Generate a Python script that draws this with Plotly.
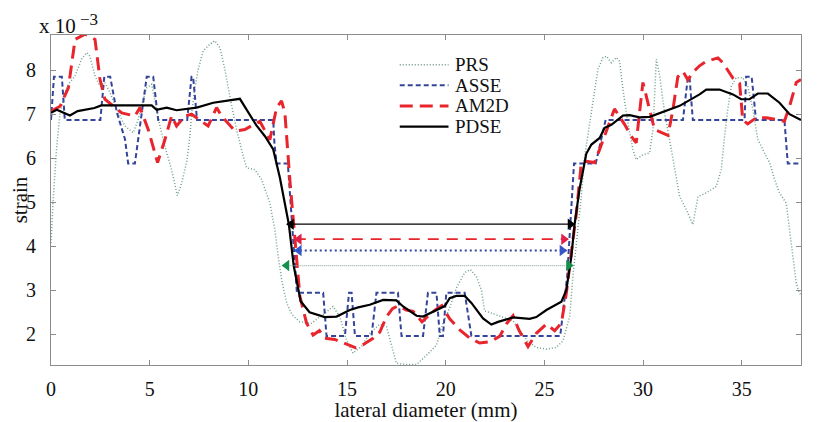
import plotly.graph_objects as go

# ---------------- data (strain in units of 1e-3, x in mm) ----------------
prs_x = [0, 0.12, 0.29, 0.46, 0.71, 0.88, 1.22, 1.55, 1.81, 1.97, 2.23, 2.48, 2.73, 2.99, 3.33, 3.75,
         4.17, 4.42, 4.67, 4.85, 5.1, 5.27, 5.52, 5.77, 6.11, 6.4, 6.6, 6.87, 7.04, 7.12, 7.29, 7.46,
         7.71, 8.05, 8.3, 8.56, 8.81, 9.06, 9.4, 9.74, 9.91, 10.33, 10.67, 11.09, 11.34, 11.51, 11.7,
         11.95, 12.2, 12.6, 13.2, 13.79, 14.29, 14.63, 14.97, 15.3, 15.73, 16.15, 16.66, 17.0, 17.5,
         18.0, 18.52, 19.02, 19.53, 19.86, 20.2, 20.54, 20.96, 21.25, 21.55, 21.81, 21.97, 22.39,
         23.41, 24.17, 24.59, 25.1, 25.6, 25.94, 26.28, 26.45, 26.62, 26.87, 27.04, 27.21, 27.38,
         27.54, 27.71, 27.97, 28.14, 28.39, 28.64, 28.81, 28.98, 29.23, 29.48, 29.65, 29.99, 30.33,
         30.5, 30.58, 30.67, 30.84, 31.09, 31.34, 31.6, 31.85, 32.19, 32.52, 32.78, 33.2, 33.71,
         33.96, 34.13, 34.29, 34.47, 34.72, 35.05, 35.3, 35.56, 35.81, 36.15, 36.41, 36.66, 36.91,
         37.25, 37.42, 37.59, 37.76, 37.92, 38]
prs_y = [4.07, 5.13, 6.27, 7.03, 7.49, 7.68, 7.87, 8.25, 8.4, 8.32, 7.87, 7.64, 7.72, 7.49, 7.11, 6.73,
         6.58, 6.88, 7.34, 7.6, 7.68, 7.26, 6.73, 6.27, 5.74, 5.15, 5.4, 5.9, 6.5, 7.0, 7.6, 8.02,
         8.44, 8.59, 8.67, 8.51, 8.02, 7.41, 6.65, 6.05, 5.78, 5.74, 5.52, 4.98, 4.38, 3.77, 3.2,
         2.7, 2.45, 2.28, 2.25, 2.45, 2.63, 2.4, 1.87, 1.57, 1.72, 2.02, 2.23, 2.17, 1.34,
         1.31, 1.31, 1.52, 1.75, 2.25, 2.6, 3.05, 3.4, 3.47, 3.31, 3.0, 2.53, 2.47,
         2.3, 1.83, 1.7, 1.66, 1.7, 1.85, 2.4, 3.35, 4.1, 5.13, 6.05, 6.58, 7.03,
         7.56, 8.02, 8.29, 8.32, 8.17, 8.29, 8.2, 7.56, 6.8, 6.2, 5.97, 6.08, 6.12,
         6.65, 7.41, 8.25, 7.87, 7.03, 6.42, 5.74, 5.13, 4.83, 4.49, 5.13, 5.21, 5.36,
         5.74, 6.5, 7.11, 7.64, 7.83, 7.83, 7.64, 7.11, 6.43, 6.12, 5.9, 5.52, 5.21,
         4.98, 4.38, 3.77, 3.16, 2.93, 2.9]

asse_x = [0, 0.15, 0.55, 0.7, 2.5, 2.7, 3.0, 3.33, 3.75, 3.91, 4.25, 4.59, 4.85, 5.18, 5.43, 6.9,
          7.12, 7.2, 7.4, 11.26, 11.32, 11.43, 12.0, 12.46, 13.79, 13.96, 14.89, 15.1, 15.23,
          15.4, 16.24, 16.49, 17.58, 17.76, 18.85, 19.1, 19.53, 19.7, 19.86, 20.03, 20.96, 21.3,
          25.8, 26.15, 26.5, 27.6, 28.1, 32.02, 32.27, 32.35, 32.52, 35.14, 35.22, 35.5, 35.72,
          37.16, 37.33, 38]
asse_y = [6.87, 7.85, 7.85, 6.87, 6.87, 7.85, 7.85, 7.05, 6.43, 5.88, 5.88, 7.03, 7.85, 7.85, 6.87, 6.87,
          7.85, 7.85, 6.87, 6.87, 6.35, 5.88, 5.88, 2.94, 2.94, 1.96, 1.96, 2.94, 2.94,
          1.96, 1.96, 2.94, 2.94, 1.96, 1.96, 2.94, 2.94, 1.96, 1.96, 2.94, 2.94, 1.96,
          1.96, 3.3, 5.88, 5.88, 6.87, 6.87, 7.85, 7.85, 6.87, 6.87, 7.85, 7.85, 6.87,
          6.87, 5.88, 5.88]

am2d_x = [0, 0.46, 0.88, 1.22, 1.72, 2.23, 2.48, 2.73, 3.58, 4.25, 4.51, 4.93, 5.4, 5.77, 6.11, 6.36,
          6.78, 7.12, 7.96, 8.39, 8.64, 9.32, 9.82, 10.58, 11.09, 11.43, 11.68, 11.85, 12.1, 12.35,
          12.61, 12.95, 13.28, 13.6, 13.87, 14.38, 14.97, 15.45, 15.81, 16.3, 16.66, 17.0, 17.3,
          17.6, 18.0, 18.35, 18.8, 19.3, 19.8, 20.2, 20.71, 21.22, 21.72, 22.23, 22.73, 23.1, 23.41,
          23.7, 24.17, 24.59, 25.1, 25.52, 25.86, 26.11, 26.36, 26.62, 26.87, 27.12, 27.54, 27.8,
          28.55, 29.06, 29.4, 29.65, 29.99, 30.2, 30.58, 31.26, 31.51, 31.76, 32.02, 32.27, 32.52,
          32.86, 33.2, 33.79, 34.04, 34.55, 34.89, 35.05, 35.3, 35.73, 36.24, 36.74, 37.16, 37.42,
          37.76, 38]
am2d_y = [7.07, 7.18, 7.6, 8.7, 8.82, 8.7, 7.8, 7.34, 7.03, 6.96, 7.15, 6.65, 5.9, 6.42, 6.96, 6.73,
          6.96, 7.0, 6.73, 7.15, 6.96, 6.62, 6.65, 6.84, 6.42, 7.15, 7.3, 7.03, 5.52, 4.22,
          2.86, 2.25, 1.98, 2.08, 1.91, 1.88, 1.78, 1.69, 1.76, 1.9, 2.05, 2.4, 2.58,
          2.65, 2.55, 2.52, 2.28, 2.5, 2.65, 2.35, 2.1, 1.91, 1.8, 1.83, 1.95, 2.25, 2.42,
          2.1, 1.72, 2.02, 2.23, 2.08, 2.25, 2.93, 3.85, 4.75, 5.9, 5.93, 5.9, 6.2,
          7.12, 6.77, 6.5, 6.35, 7.72, 7.34, 6.65, 6.52, 7.1, 7.85, 7.97, 7.78, 7.95,
          8.1, 8.2, 8.28, 8.17, 7.82, 7.7, 6.87, 6.78, 6.92, 6.92, 6.88, 6.84, 7.18,
          7.72, 7.79]

pdse_x = [0, 0.29, 0.96, 1.35, 2.2, 2.55, 5.1, 5.35, 5.86, 6.36, 7.38, 8.22, 9.57, 10.4, 10.84, 11.26,
          11.6, 11.85, 12.05, 12.3, 12.65, 13.1, 13.87, 14.47, 15.14, 15.56, 16.15, 16.83, 17.5,
          17.84, 18.52, 18.85, 19.36, 19.95, 20.2, 20.54, 20.96, 21.3, 21.89, 22.31, 22.65, 23.41,
          24.25, 24.59, 25.1, 25.86, 26.11, 26.36, 26.53, 26.78, 27.12, 27.38, 27.8, 28.05, 28.39,
          28.98, 29.32, 29.82, 30.33, 31.17, 31.85, 32.86, 33.2, 33.87, 34.55, 34.97, 35.39, 35.81,
          36.32, 36.91, 37.42, 38]
pdse_y = [7.03, 7.1, 6.97, 7.07, 7.14, 7.2, 7.2, 7.1, 7.15, 7.09, 7.15, 7.26, 7.35, 6.75, 6.5, 6.2,
          5.55, 4.95, 4.5, 3.55, 2.75, 2.5, 2.39, 2.4, 2.55, 2.61, 2.67, 2.78, 2.77,
          2.63, 2.42, 2.4, 2.51, 2.64, 2.82, 2.87, 2.87, 2.71, 2.36, 2.22, 2.28, 2.38,
          2.35, 2.39, 2.55, 2.74, 3.0, 3.75, 4.5, 5.3, 6.1, 6.31, 6.46, 6.69, 6.76,
          6.97, 6.98, 6.93, 6.94, 7.07, 7.19, 7.45, 7.56, 7.56, 7.45, 7.34, 7.34, 7.47,
          7.47, 7.26, 7.0, 6.87]

# measured lesion widths (start, end, level) for each method
width_names = ["PDSE", "AM2D", "ASSE", "PRS"]
width_start = [11.95, 12.35, 12.35, 11.72]
width_end = [26.53, 26.2, 26.12, 26.45]
width_level = [4.5, 4.16, 3.9, 3.56]

x_ticks = [0, 5, 10, 15, 20, 25, 30, 35]
y_ticks = [2, 3, 4, 5, 6, 7, 8]

# ---------------- styling ----------------
SERIF = "Liberation Serif, Times New Roman, serif"
C_PRS = "#6f9f8a"
C_ASSE = "#34449a"
C_AM2D = "#e8252d"
C_PDSE = "#000000"

fig = go.Figure()
fig.add_trace(go.Scatter(x=prs_x, y=prs_y, mode="lines", name="PRS",
                         line=dict(color=C_PRS, width=1.5, dash="1px,2px")))
fig.add_trace(go.Scatter(x=asse_x, y=asse_y, mode="lines", name="ASSE",
                         line=dict(color=C_ASSE, width=2, dash="5px,3px")))
fig.add_trace(go.Scatter(x=am2d_x, y=am2d_y, mode="lines", name="AM2D",
                         line=dict(color=C_AM2D, width=3, dash="13px,7px")))
fig.add_trace(go.Scatter(x=pdse_x, y=pdse_y, mode="lines", name="PDSE",
                         line=dict(color=C_PDSE, width=2.2)))

arrow_styles = {
    "PDSE": dict(line=dict(color="#000000", width=1.3), mcolor="#000000"),
    "AM2D": dict(line=dict(color=C_AM2D, width=1.6, dash="11px,8px"), mcolor="#e0204a"),
    "ASSE": dict(line=dict(color=C_ASSE, width=2, dash="2px,3px"), mcolor="#3355c8"),
    "PRS": dict(line=dict(color="#9ab0a6", width=1.2, dash="1px,1px"), mcolor="#13904a"),
}
head = 0.22
for nm, xs, xe, lv in zip(width_names, width_start, width_end, width_level):
    st = arrow_styles[nm]
    fig.add_trace(go.Scatter(x=[xs, xe], y=[lv, lv], mode="lines", line=st["line"],
                             showlegend=False, hoverinfo="skip"))
    fig.add_trace(go.Scatter(x=[xs + head, xe - head], y=[lv, lv], mode="markers",
                             marker=dict(symbol=["triangle-left", "triangle-right"], size=10,
                                         color=st["mcolor"], line=dict(width=0)),
                             showlegend=False, hoverinfo="skip"))

# manual legend (compact, like the original)
leg_items = [("PRS", dict(color="#6f8f84", width=1.4, dash="1px,2px")),
             ("ASSE", dict(color=C_ASSE, width=2, dash="5px,3px")),
             ("AM2D", dict(color=C_AM2D, width=3, dash="13px,7px")),
             ("PDSE", dict(color=C_PDSE, width=2.2))]
leg_y0 = 0.91
leg_dy = 0.0625
for i, (txt, ln) in enumerate(leg_items):
    yy = leg_y0 - i * leg_dy
    fig.add_shape(type="line", xref="paper", yref="paper", x0=0.465, x1=0.530, y0=yy, y1=yy,
                  line=ln)
    fig.add_annotation(xref="paper", yref="paper", x=0.536, y=yy, text=txt, showarrow=False,
                       xanchor="left", yanchor="middle",
                       font=dict(family=SERIF, size=19, color="#111111"))

# exponent label
fig.add_annotation(xref="paper", yref="paper", x=-0.019, y=1.028, text="x 10", showarrow=False,
                   xanchor="left", yanchor="middle", font=dict(family=SERIF, size=21, color="#111"))
fig.add_annotation(xref="paper", yref="paper", x=0.036, y=1.046, text="\u22123", showarrow=False,
                   xanchor="left", yanchor="middle", font=dict(family=SERIF, size=17, color="#111"))

axis_common = dict(showgrid=False, zeroline=False, showline=True, linecolor="#8c8c8c", linewidth=1.2,
                   mirror="ticks", ticks="inside", ticklen=5, tickcolor="#8c8c8c", automargin=False,
                   tickfont=dict(family=SERIF, size=20, color="#111111"))

# page body adds an 8px offset, so the figure is 8px smaller than the window
fig.update_layout(
    width=822, height=414,
    margin=dict(l=43, r=29, t=27, b=57),
    paper_bgcolor="white", plot_bgcolor="white",
    showlegend=False,
    xaxis=dict(range=[0, 38], tickvals=x_ticks, ticklabelstandoff=6,
               title=dict(text="lateral diameter (mm)", standoff=2,
                          font=dict(family=SERIF, size=21, color="#111111")),
               **axis_common),
    yaxis=dict(range=[1.3, 8.8], tickvals=y_ticks, ticklabelstandoff=10,
               title=dict(text="strain", standoff=6,
                          font=dict(family=SERIF, size=21, color="#111111")),
               **axis_common),
)

fig.write_html("out.html")
